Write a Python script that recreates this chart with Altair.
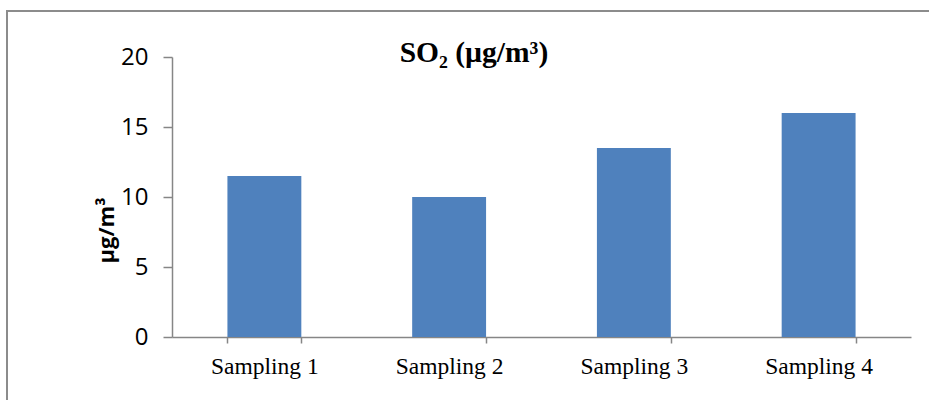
import altair as alt
import pandas as pd

categories = ["Sampling 1", "Sampling 2", "Sampling 3", "Sampling 4"]
so2_values = [11.5, 10.0, 13.5, 16.0]
y_ticks = [0, 5, 10, 15, 20]

df = pd.DataFrame({"sample": categories, "value": so2_values})

bars = alt.Chart(df).mark_bar(color="#4F81BD").encode(
    x=alt.X(
        "sample:N",
        sort=categories,
        title=None,
        scale=alt.Scale(paddingInner=0.6, paddingOuter=0.3),
        axis=alt.Axis(
            labelAngle=0,
            labelFont="Liberation Serif",
            labelFontSize=23.5,
            labelColor="#000000",
            labelPadding=11,
            tickBand="extent",
            tickSize=6,
            tickColor="#868686",
            tickWidth=1.5,
            domainColor="#868686",
            domainWidth=1.5,
            grid=False,
        ),
    ),
    y=alt.Y(
        "value:Q",
        scale=alt.Scale(domain=[0, 20], nice=False),
        axis=alt.Axis(
            values=y_ticks,
            title="µg/m³",
            titleFont="Open Sans",
            titleFontSize=22,
            titleFontWeight="bold",
            titleColor="#000000",
            titleAngle=-90,
            titleX=-66,
            titleY=173,
            titleAlign="center",
            titleBaseline="middle",
            labelFont="Open Sans",
            labelFontSize=24,
            labelColor="#000000",
            labelPadding=15,
            tickSize=9,
            tickColor="#868686",
            tickWidth=1.5,
            domainColor="#868686",
            domainWidth=1.5,
            grid=False,
        ),
    ),
)

one = pd.DataFrame({"k": [0]})

frame = alt.Chart(one).mark_rect(
    fill="transparent", stroke="#8c8c8c", strokeWidth=2
).encode(
    x=alt.value(-165), x2=alt.value(900), y=alt.value(-46), y2=alt.value(420)
)

title = alt.Chart(one).mark_text(
    text="SO₂ (µg/m³)",
    font="Liberation Serif",
    fontSize=29.5,
    fontWeight="bold",
    align="center",
    baseline="alphabetic",
    color="#000000",
).encode(x=alt.value(302), y=alt.value(5))

chart = alt.layer(frame, bars, title).properties(
    width=739,
    height=280,
    autosize=alt.AutoSizeParams(type="none"),
    padding={"left": 172, "top": 57, "right": 18, "bottom": 63},
    background="white",
).configure_view(strokeWidth=0)

chart.save("out.html", embed_options={"renderer": "svg", "actions": False})
